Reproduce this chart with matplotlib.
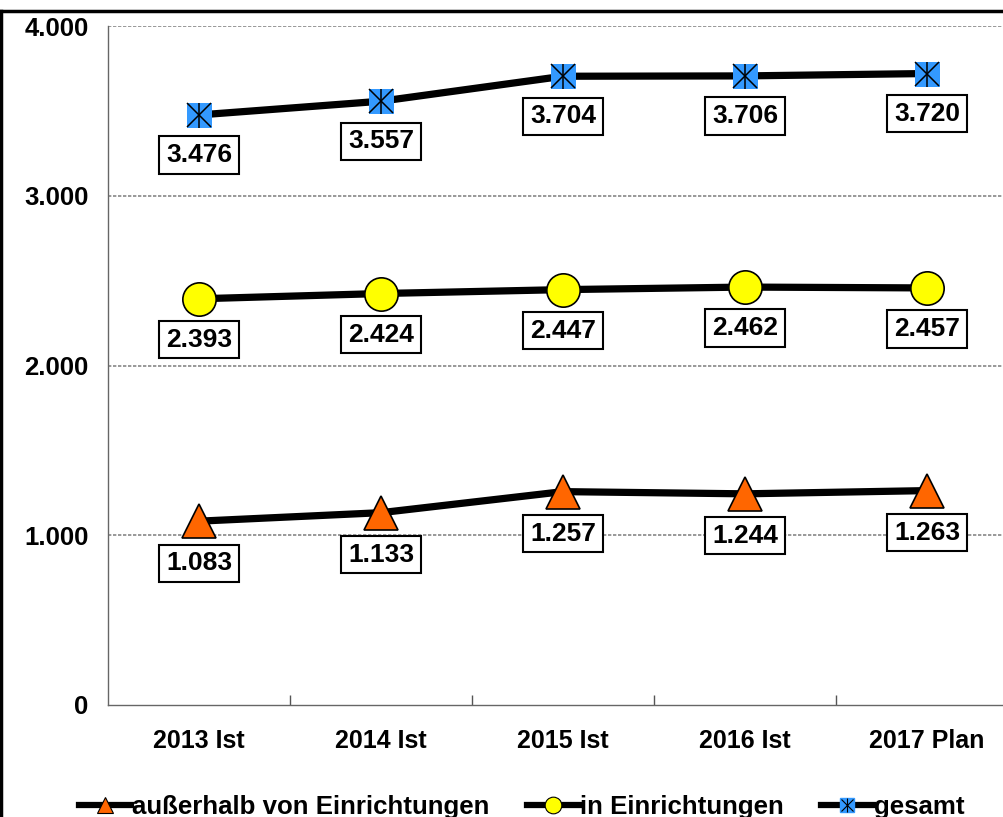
import numpy as np
import matplotlib.pyplot as plt
from matplotlib.lines import Line2D

plt.rcParams['font.family'] = ['Liberation Sans', 'DejaVu Sans']
plt.rcParams['font.weight'] = 'bold'

categories = ['2013 Ist', '2014 Ist', '2015 Ist', '2016 Ist', '2017 Plan']
ausserhalb = [1083, 1133, 1257, 1244, 1263]
in_einr = [2393, 2424, 2447, 2462, 2457]
gesamt = [3476, 3557, 3704, 3706, 3720]
yticks = [0, 1000, 2000, 3000, 4000]
ytick_labels = ['0', '1.000', '2.000', '3.000', '4.000']


def fmt(v):
    return '{:,}'.format(v).replace(',', '.')


def main():
    fig = plt.figure(figsize=(10.04, 8.17), dpi=100)
    ax = fig.add_axes([108 / 1004, 112 / 817, 910 / 1004, 679 / 817])
    x = np.arange(len(categories))

    ax.plot(x, ausserhalb, color='black', lw=5.2, zorder=3,
            marker='^', ms=25, mfc='#FF6600', mec='black', mew=1.2)
    ax.plot(x, in_einr, color='black', lw=5.2, zorder=3,
            marker='o', ms=24, mfc='#FFFF00', mec='black', mew=1.2)
    ax.plot(x, gesamt, color='black', lw=5.2, zorder=3,
            marker='s', ms=18, mfc='#3399FF', mec='#3399FF', mew=0)
    ax.plot(x, gesamt, ls='none', marker='x', ms=17, mec='black', mew=1.1, zorder=4)
    ax.plot(x, gesamt, ls='none', marker='|', ms=18, mec='black', mew=1.1, zorder=4)

    for series, off in [(ausserhalb, -42), (in_einr, -41), (gesamt, -40)]:
        for xi, v in zip(x, series):
            ax.annotate(fmt(v), (xi, v), xytext=(0, off), textcoords='offset pixels',
                        ha='center', va='center', fontsize=19, fontweight='bold',
                        zorder=5,
                        bbox=dict(boxstyle='square,pad=0.25', fc='white', ec='black', lw=1.5))

    ax.set_xlim(-0.5, len(categories) - 0.5)
    ax.set_ylim(0, 4000)
    ax.set_yticks(yticks)
    ax.set_yticklabels(ytick_labels, fontsize=18.5, fontweight='bold')
    ax.tick_params(axis='y', length=0, pad=14)
    ax.set_xticks(x)
    ax.set_xticklabels(categories, fontsize=18, fontweight='bold')
    ax.tick_params(axis='x', which='major', length=0, pad=17)
    ax.set_xticks(np.arange(0.5, len(categories) - 1, 1), minor=True)
    ax.tick_params(axis='x', which='minor', direction='in', length=7, width=1, color='#555555')

    for yv in yticks[1:]:
        ax.axhline(yv, color='#888888', lw=1.2, ls=(0, (2, 1)), zorder=1)
    for s in ['top', 'right']:
        ax.spines[s].set_visible(False)
    for s in ['left', 'bottom']:
        ax.spines[s].set_color('#666666')
        ax.spines[s].set_linewidth(1)

    # frame around the chart (only top and left visible)
    fig.add_artist(Line2D([0, 1], [1 - 11 / 817] * 2, color='black', lw=2.5,
                          transform=fig.transFigure))
    fig.add_artist(Line2D([1.5 / 1004] * 2, [0, 1 - 11 / 817], color='black', lw=2.5,
                          transform=fig.transFigure))

    h_line = dict(color='black', lw=4.5)
    handles = [
        Line2D([], [], marker='^', ms=12, mfc='#FF6600', mec='black', mew=0.8, **h_line),
        Line2D([], [], marker='o', ms=12, mfc='#FFFF00', mec='black', mew=0.8, **h_line),
        (Line2D([], [], marker='s', ms=10, mfc='#3399FF', mec='#3399FF', **h_line),
         Line2D([], [], ls='none', marker='x', ms=9, mec='black', mew=0.8),
         Line2D([], [], ls='none', marker='|', ms=10, mec='black', mew=0.8)),
    ]
    labels = ['außerhalb von Einrichtungen', 'in Einrichtungen', 'gesamt']
    fig.legend(handles, labels, loc='center', bbox_to_anchor=(522 / 1004, 10 / 817),
               ncol=3, frameon=False, handlelength=2.0, handletextpad=0.05,
               columnspacing=1.45, prop={'weight': 'bold', 'size': 18.6})

    fig.savefig('out.png', dpi=100)


if __name__ == "__main__":
    main()
